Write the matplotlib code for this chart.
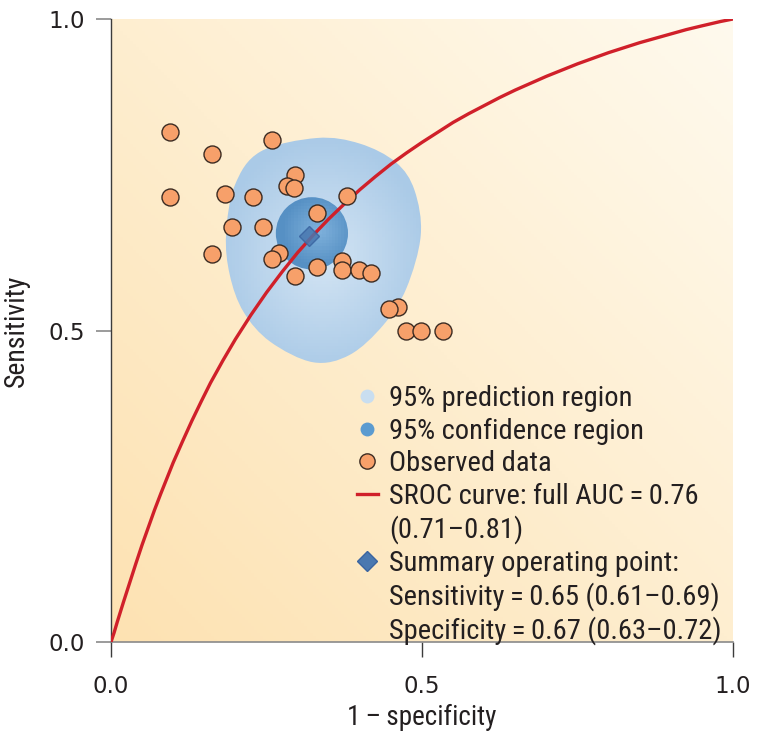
import numpy as np
import matplotlib
matplotlib.use("Agg")
import matplotlib.pyplot as plt
from matplotlib import font_manager
from matplotlib.path import Path
from matplotlib.patches import PathPatch, Circle
from matplotlib.lines import Line2D

# observed study points (1 - specificity, sensitivity)
obs_fpr = [0.095, 0.162, 0.259, 0.296, 0.283, 0.294, 0.095, 0.184, 0.229, 0.379,
           0.331, 0.195, 0.245, 0.162, 0.270, 0.259, 0.296, 0.331, 0.372, 0.372,
           0.399, 0.418, 0.461, 0.447, 0.474, 0.498, 0.533]
obs_sens = [0.819, 0.784, 0.805, 0.750, 0.732, 0.728, 0.715, 0.719, 0.715, 0.716,
            0.688, 0.666, 0.666, 0.623, 0.625, 0.615, 0.588, 0.602, 0.611, 0.597,
            0.597, 0.592, 0.538, 0.534, 0.499, 0.499, 0.499]

# summary operating point
summary_fpr = 0.319
summary_sens = 0.652

# SROC curve
sroc_fpr = [0.0, 0.002, 0.005, 0.01, 0.015, 0.02, 0.03, 0.04, 0.05, 0.06, 0.07, 0.08,
            0.09, 0.10, 0.115, 0.13, 0.145, 0.16, 0.18, 0.20, 0.225, 0.25, 0.275,
            0.30, 0.325, 0.35, 0.375, 0.40, 0.425, 0.45, 0.475, 0.50, 0.525, 0.55,
            0.575, 0.60, 0.625, 0.65, 0.675, 0.70, 0.725, 0.75, 0.775, 0.80, 0.825,
            0.85, 0.875, 0.90, 0.925, 0.95, 0.965, 0.98, 1.0]
sroc_sens = [0.0, 0.006, 0.015, 0.032, 0.048, 0.064, 0.095, 0.126, 0.156, 0.184, 0.212, 0.238,
             0.263, 0.288, 0.322, 0.355, 0.386, 0.416, 0.452, 0.486, 0.525, 0.561, 0.594,
             0.625, 0.653, 0.679, 0.703, 0.726, 0.747, 0.767, 0.785, 0.802, 0.818, 0.834,
             0.848, 0.861, 0.874, 0.886, 0.897, 0.908, 0.918, 0.928, 0.937, 0.946, 0.954,
             0.962, 0.969, 0.976, 0.983, 0.989, 0.9925, 0.996, 1.0]

# 95% confidence region (circle)
conf_center = (0.323, 0.656)
conf_radius = 0.058

# 95% prediction region outline
pred_x = [0.331, 0.240, 0.199, 0.185, 0.191, 0.213, 0.256, 0.325,
          0.384, 0.438, 0.475, 0.498, 0.488, 0.458, 0.400]
pred_y = [0.809, 0.787, 0.733, 0.654, 0.589, 0.530, 0.482, 0.449,
          0.461, 0.509, 0.568, 0.653, 0.725, 0.770, 0.800]

legend_labels = ["95% prediction region", "95% confidence region", "Observed data",
                 "SROC curve: full AUC\u2009=\u20090.76", "(0.71\u20130.81)",
                 "Summary operating point:",
                 "Sensitivity\u2009=\u20090.65 (0.61\u20130.69)",
                 "Specificity\u2009=\u20090.67 (0.63\u20130.72)"]


def pick_font(names):
    for n in names:
        try:
            font_manager.findfont(n, fallback_to_default=False)
            return n
        except Exception:
            pass
    return "DejaVu Sans"


narrow = pick_font(["Liberation Sans Narrow", "Roboto Condensed", "DejaVu Sans"])
tickfont = "DejaVu Sans"
txt_color = "#231f20"

fig = plt.figure(figsize=(7.62, 7.43), dpi=100)
ax = fig.add_axes([111 / 762, 101 / 743, 622 / 762, 623 / 743])
ax.set_xlim(0, 1)
ax.set_ylim(0, 1)

# background gradient: orange at lower-left, pale cream at upper-right
gx, gy = np.meshgrid(np.linspace(0, 1, 200), np.linspace(0, 1, 200))
t = np.clip((gx + gy) / 2.0, 0, 1)[..., None]
c0 = np.array([253, 226, 178]) / 255
c1 = np.array([255, 250, 238]) / 255
bg = c0 * (1 - t) + c1 * t
ax.imshow(bg, extent=(0, 1, 0, 1), origin="lower", aspect="auto", zorder=0)

# smooth closed outline (Catmull-Rom -> cubic Bezier)
P = np.column_stack([pred_x, pred_y])
n = len(P)
verts = [P[0]]
codes = [Path.MOVETO]
for i in range(n):
    p0, p1, p2, p3 = P[i - 1], P[i], P[(i + 1) % n], P[(i + 2) % n]
    verts += [p1 + (p2 - p0) / 6, p2 - (p3 - p1) / 6, p2]
    codes += [Path.CURVE4] * 3
pred_path = Path(verts, codes)
pred_patch = PathPatch(pred_path, facecolor="none", edgecolor="none", zorder=1)
ax.add_patch(pred_patch)

# radial gradient inside prediction region
r = np.sqrt(((gx - 0.34) / 0.17) ** 2 + ((gy - 0.62) / 0.19) ** 2)
tr = np.clip(r, 0, 1)[..., None]
e_in = np.array([212, 229, 244]) / 255
e_out = np.array([170, 202, 231]) / 255
pim = ax.imshow(e_in * (1 - tr) + e_out * tr, extent=(0, 1, 0, 1), origin="lower",
                aspect="auto", zorder=1)
pim.set_clip_path(pred_patch)

conf = Circle(conf_center, conf_radius, facecolor="none", edgecolor="none", zorder=2)
ax.add_patch(conf)
rc = np.sqrt((gx - conf_center[0] - 0.01) ** 2 + (gy - conf_center[1] - 0.005) ** 2) / conf_radius
tc = np.clip(rc, 0, 1)[..., None]
c_in = np.array([128, 178, 220]) / 255
c_out = np.array([86, 144, 196]) / 255
cim = ax.imshow(c_in * (1 - tc) + c_out * tc, extent=(0, 1, 0, 1), origin="lower",
                aspect="auto", zorder=2)
cim.set_clip_path(conf)

ax.plot(sroc_fpr, sroc_sens, color="#d0202a", lw=2.4, zorder=3, solid_joinstyle="round")
ax.scatter(obs_fpr, obs_sens, s=150, facecolor="#f7a06a", edgecolor="#3b2b22",
           linewidth=1.0, zorder=4)
ax.plot(summary_fpr, summary_sens, marker="D", ms=10, mfc="#4a78b0", mec="#3a64a0",
        alpha=0.85, ls="", zorder=5)

ax.set_xlim(0, 1)
ax.set_ylim(0, 1)

# axes styling
for s in ["top", "right"]:
    ax.spines[s].set_visible(False)
ax.spines["left"].set_color("#3c3c3c")
ax.spines["bottom"].set_color("#8a8a8a")
ax.spines["left"].set_linewidth(1.0)
ax.spines["bottom"].set_linewidth(1.2)
ax.set_xticks([0, 0.5, 1.0])
ax.set_yticks([0, 0.5, 1.0])
ax.set_xticklabels(["0.0", "0.5", "1.0"])
ax.set_yticklabels(["0.0", "0.5", "1.0"])
ax.tick_params(axis="x", direction="out", length=11, width=1.0, color="#3c3c3c",
               pad=13, labelsize=16.5, labelcolor=txt_color)
ax.tick_params(axis="y", direction="out", length=11, width=1.2, color="#8a8a8a",
               pad=8, labelsize=16.5, labelcolor=txt_color)
for lab in ax.get_xticklabels() + ax.get_yticklabels():
    lab.set_fontfamily(tickfont)

ax.set_xlabel("1\u2009\u2013\u2009specificity", fontsize=19.5, family=narrow, color=txt_color)
ax.set_ylabel("Sensitivity", fontsize=20, family=narrow, color=txt_color)
ax.xaxis.set_label_coords(0.5, -0.1)
ax.yaxis.set_label_coords(-0.13, 0.5)

blank = Line2D([], [], ls="", marker="")
handles = [
    Line2D([], [], ls="", marker="o", ms=10, mfc="#c9def0", mec="none"),
    Line2D([], [], ls="", marker="o", ms=10, mfc="#5b9bd0", mec="none"),
    Line2D([], [], ls="", marker="o", ms=11, mfc="#f7a06a", mec="#3b2b22", mew=1.0),
    Line2D([], [], color="#d0202a", lw=2.4),
    blank,
    Line2D([], [], ls="", marker="D", ms=10, mfc="#4a78b0", mec="#3a64a0"),
    blank, blank,
]
leg = ax.legend(handles, legend_labels, loc="upper left",
                bbox_to_anchor=(357 / 762, 1 - 385 / 743), bbox_transform=fig.transFigure,
                frameon=False, borderpad=0, borderaxespad=0, labelspacing=0.195,
                handlelength=0.72, handletextpad=0.4,
                prop={"family": narrow, "size": 20.5})
for tx in leg.get_texts():
    tx.set_color(txt_color)

fig.savefig("out.png", dpi=100)
